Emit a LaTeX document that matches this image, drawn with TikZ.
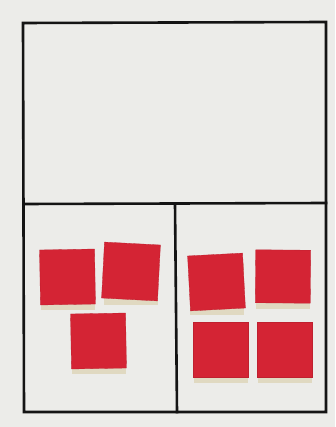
\documentclass[tikz,border=0pt]{standalone}
\begin{document}
\begin{tikzpicture}[x=1pt,y=-1pt,
  frame/.style={line width=2.6pt,draw=black!92,line cap=rect,line join=miter},
  tile/.style={rectangle,fill=tilered,draw=tilered!90!black,line width=0.3pt,inner sep=0pt,minimum width=55pt,minimum height=55pt},
  tileshadow/.style={rectangle,fill=shadowtan,opacity=0.45,inner sep=0pt,minimum width=54pt,minimum height=52pt}]
\definecolor{paper}{RGB}{236,236,233}
\definecolor{tilered}{RGB}{212,36,52}
\definecolor{shadowtan}{RGB}{210,195,145}
\fill[paper] (0,0) rectangle (335,427);
\useasboundingbox (0,0) rectangle (335,427);
% frame corners
\coordinate (tl) at (23,23);
\coordinate (tr) at (326,22);
\coordinate (br) at (326,412);
\coordinate (bl) at (24,412);
\coordinate (ml) at (23.5,204);
\coordinate (mr) at (326,203);
\coordinate (mt) at (175,204);
\coordinate (mb) at (177,412);
\draw[frame] (tl) -- (tr) -- (br) -- (bl) -- cycle;
\draw[frame] (ml) -- (mr);
\draw[frame] (mt) -- (mb);
% shadows
\foreach \x/\y in {68/284, 131/279, 99/348, 217/289, 283/283, 221/357, 284.5/357}
  \node[tileshadow] at (\x,\y) {};
% tiles
\node[tile,rotate=1] (t1) at (67.5,277) {};
\node[tile,rotate=-3,minimum width=56pt,minimum height=56pt] (t2) at (131,271.5) {};
\node[tile,rotate=1] (t3) at (98.5,341) {};
\node[tile,rotate=3] (t4) at (216.5,282) {};
\node[tile,rotate=-0.5,minimum height=53pt] (t5) at (283,276.5) {};
\node[tile] (t6) at (221,350) {};
\node[tile] (t7) at (284.5,349.5) {};
\end{tikzpicture}
\end{document}
